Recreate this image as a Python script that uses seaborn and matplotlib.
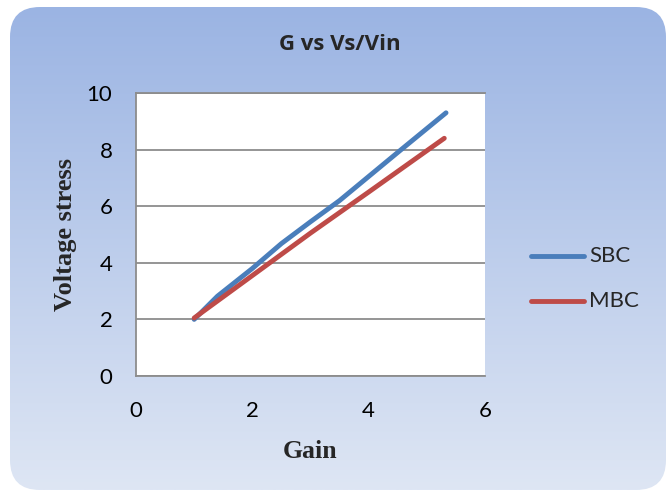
import numpy as np
import pandas as pd
import matplotlib
matplotlib.use("Agg")
import matplotlib.pyplot as plt
import seaborn as sns
from matplotlib.patches import FancyBboxPatch

gain_sbc = [1.0, 1.4, 2.0, 2.5, 3.0, 3.5, 4.0, 4.5, 5.33]
stress_sbc = [2.0, 2.82, 3.8, 4.68, 5.45, 6.2, 7.05, 7.9, 9.3]
gain_mbc = [1.0, 2.0, 3.0, 4.0, 5.3]
stress_mbc = [2.05, 3.55, 5.05, 6.5, 8.4]

df = pd.concat([
    pd.DataFrame({"Gain": gain_sbc, "Voltage stress": stress_sbc, "Series": "SBC"}),
    pd.DataFrame({"Gain": gain_mbc, "Voltage stress": stress_mbc, "Series": "MBC"}),
])

sns.set_style("white")
fig = plt.figure(figsize=(6.72, 4.93), dpi=100)
fig.patch.set_facecolor("white")

bg = fig.add_axes([0, 0, 1, 1], zorder=-5)
bg.set_xlim(0, 672); bg.set_ylim(493, 0); bg.axis("off")
grad = np.linspace(0, 1, 256)[:, None]
top = np.array([0x9b, 0xb4, 0xe3]) / 255
bot = np.array([0xde, 0xe6, 0xf4]) / 255
img = top[None, None, :] * (1 - grad[:, :, None]) + bot[None, None, :] * grad[:, :, None]
im = bg.imshow(img, extent=[10, 666, 490, 7], aspect="auto")
patch = FancyBboxPatch((10, 7), 656, 483, boxstyle="round,pad=0,rounding_size=30",
                       transform=bg.transData, facecolor="none", edgecolor="none")
bg.add_patch(patch)
im.set_clip_path(patch)

ax = fig.add_axes([136/672, 1 - 376/493, (485-136)/672, (376-93)/493])
ax.set_facecolor("white")
palette = {"SBC": "#4a7ebb", "MBC": "#be4b48"}
sns.lineplot(data=df, x="Gain", y="Voltage stress", hue="Series", palette=palette,
             linewidth=3.5, ax=ax, sort=False, solid_capstyle="round", legend=False)
ax.set_xlim(0, 6); ax.set_ylim(0, 10)
ax.set_xticks([0, 2, 4, 6]); ax.set_yticks([0, 2, 4, 6, 8, 10])
ax.yaxis.grid(True, color="#8c8c8c", linewidth=1.3)
ax.xaxis.grid(False)
ax.spines["right"].set_visible(False)
for s in ["left", "bottom", "top"]:
    ax.spines[s].set_color("#8c8c8c"); ax.spines[s].set_linewidth(1.3)
ax.tick_params(axis="x", labelsize=16, length=0, pad=18, colors="black")
ax.tick_params(axis="y", labelsize=16, length=0, pad=17, colors="black")
for lab in ax.get_xticklabels() + ax.get_yticklabels():
    lab.set_fontfamily("Lato")
ax.set_xlabel("Gain", fontfamily="Liberation Serif", fontweight="bold", fontsize=18.5, labelpad=14)
ax.set_ylabel("Voltage stress", fontfamily="Liberation Serif", fontweight="bold", fontsize=19, labelpad=7)

fig.text(340/672, 1 - 45/493, "G vs Vs/Vin", ha="center", va="center",
         fontfamily="Open Sans", fontweight="bold", fontsize=16)

for ypix, name in [(256, "SBC"), (301, "MBC")]:
    yy = 1 - ypix/493
    bg.plot([531, 584], [ypix, ypix], color=palette[name], linewidth=3.5, solid_capstyle="round")
    fig.text(589/672, yy, name, ha="left", va="center", fontfamily="Lato", fontsize=16)

fig.savefig("out.png", dpi=100)
